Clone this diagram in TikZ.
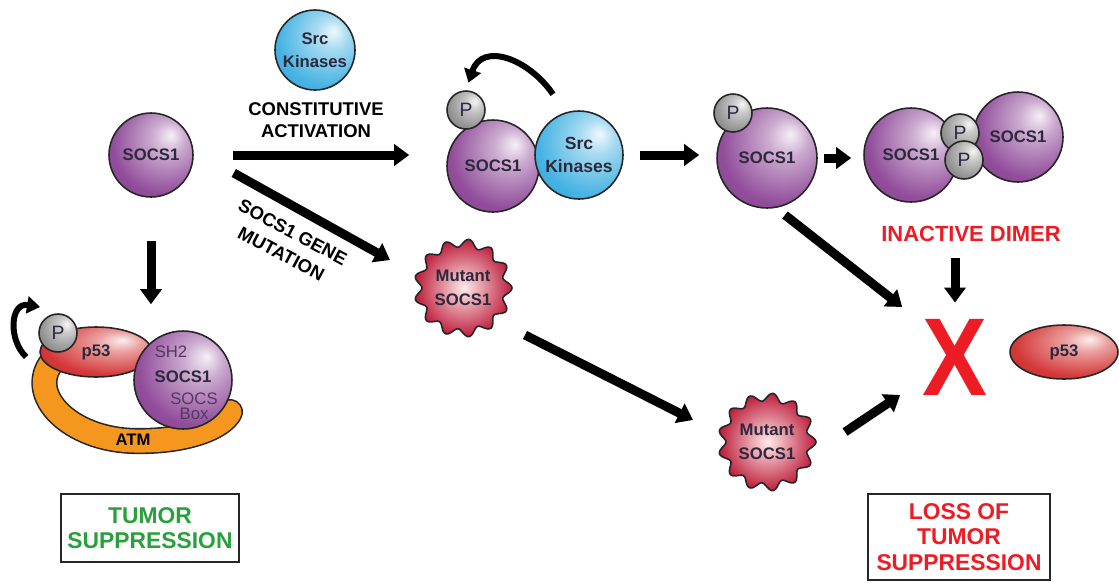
\documentclass[tikz,border=0pt]{standalone}
\usepackage{fontspec}
\setmainfont{Liberation Sans}
\usetikzlibrary{arrows.meta,shapes.geometric}

\definecolor{socspurple}{RGB}{140,68,150}
\definecolor{socsdark}{RGB}{85,55,95}
\definecolor{srcblue}{RGB}{60,175,225}
\definecolor{pgray}{RGB}{140,140,140}
\definecolor{p53red}{RGB}{210,45,45}
\definecolor{mutred}{RGB}{190,30,60}
\definecolor{atmorange}{RGB}{245,150,30}
\definecolor{alarmred}{RGB}{237,28,36}
\definecolor{okgreen}{RGB}{40,160,60}
\definecolor{inktext}{RGB}{45,40,60}

% softer ball shading, light spot up and to the right
\makeatletter
\pgfdeclareradialshading[tikz@ball]{orbshade}{\pgfqpoint{12bp}{12bp}}{%
  color(0bp)=(tikz@ball!8!white); color(10bp)=(tikz@ball!45!white);
  color(30bp)=(tikz@ball!95!white); color(52bp)=(tikz@ball!85!black);
  color(75bp)=(tikz@ball!70!black)}
\makeatother

\begin{document}
\begin{tikzpicture}[x=0.02cm, y=-0.02cm,
  every node/.style={font=\bfseries\fontsize{9.5}{13}\selectfont, text=inktext, align=center},
  orb/.style={circle, draw=black!85, line width=0.9pt, inner sep=0pt, minimum size=#1},
  socs/.style={orb=#1, ball color=socspurple, shading=orbshade},
  src/.style={orb=#1, ball color=srcblue, shading=orbshade},
  phos/.style={orb=0.76cm, ball color=pgray, shading=orbshade, font=\fontsize{11}{11}\selectfont},
  prot/.style={ellipse, draw=black!85, line width=0.9pt, ball color=p53red, shading=orbshade, inner sep=0pt},
  mutant/.style={draw=black!85, line width=0.9pt, inner color=red!8, outer color=mutred},
  fat/.style={line width=0.18cm, -{Triangle[length=0.3cm, width=0.42cm]}},
  curl/.style={line width=0.12cm, -{Triangle[length=0.26cm, width=0.34cm]}},
  arrowlbl/.style={font=\bfseries\fontsize{10.5}{12.5}\selectfont, text=black},
  verdict/.style={draw=black!85, line width=1.2pt, minimum width=3.56cm,
                  font=\bfseries\fontsize{13}{14.5}\selectfont},
]
\useasboundingbox (0,0) rectangle (1119,582);

% free SOCS1 and the kinase
\node[socs=1.68cm] (socsA) at (151,155) {SOCS1};
\node[src=1.6cm] (srcA) at (315,50) {Src\\Kinases};
\node[arrowlbl] (constit) at (316,120) {CONSTITUTIVE\\ACTIVATION};

% Src bound to SOCS1
\node[socs=1.84cm] (socsB) at (493,166) {SOCS1};
\node[src=1.76cm, font=\bfseries\fontsize{10}{13}\selectfont] (srcB) at (579,155) {Src\\Kinases};
\node[phos] (pB) at (466,110) {P};
\draw[curl, shorten >=0.16cm] ([shift={(-26,-16)}]srcB.north)
  .. controls (528,58) and (482,42) .. (pB.north);

% phosphorylated SOCS1
\node[socs=2cm] (socsC) at (767,158) {SOCS1};
\node[phos] (pC) at (733,113) {P};

% dimer
\node[socs=1.8cm] (dimR) at (1018,137) {SOCS1};
\node[socs=1.88cm] (dimL) at (911,155) {SOCS1};
\node[phos] (pD1) at (960,133) {P};
\node[phos] (pD2) at (964,160) {P};
\node[font=\bfseries\fontsize{12.5}{13}\selectfont, text=alarmred] (inactive) at (971,234) {INACTIVE DIMER};

\node[text=alarmred, inner sep=0pt, font=\bfseries\fontsize{63}{63}\selectfont] (xmark) at (955,357) {\scalebox{0.88}[1]{X}};
\node[prot, minimum width=2.16cm, minimum height=1.08cm] (p53R) at (1064,352) {p53};

% mutant SOCS1 blobs
\foreach \cx/\cy in {463/288, 767/442}
  \draw[mutant, shift={(\cx,\cy)}] plot[domain=0:357.5, samples=144, smooth cycle] (\x:{45+4*cos(13*\x)});
\node[circle, minimum size=1.96cm, inner sep=0pt, font=\bfseries\fontsize{9.5}{14}\selectfont] (mutA) at (463,288) {Mutant\\SOCS1};
\node[circle, minimum size=1.96cm, inner sep=0pt, font=\bfseries\fontsize{9.5}{14}\selectfont] (mutB) at (767,442) {Mutant\\SOCS1};

% ATM / p53 / SOCS1 complex
\draw[double=atmorange, double distance=0.46cm, line width=0.9pt, black!85, line cap=round]
  (52,362) .. controls (26,395) and (70,440) .. (135,441) .. controls (185,442) and (222,428) .. (230,412);
\node[text=black] (atm) at (133,440) {ATM};
\node[prot, minimum width=2.24cm, minimum height=1cm] (p53L) at (96,352) {p53};
\node[socs=1.96cm] (socsE) at (183,380) {};
\node[font=\fontsize{9.5}{9.5}\selectfont, text=socsdark] (sh2) at (171,352) {SH2};
\node (socsElbl) at (183,377) {SOCS1};
\node[font=\fontsize{9.5}{8.5}\selectfont, text=socsdark] (socsbox) at (194,406) {SOCS\\Box};
\node[phos] (pE) at (58,333) {P};
\draw[curl] ([shift={(-13,5)}]p53L.west) .. controls (8,340) and (10,302) .. ([shift={(-4,-12)}]pE.north west);

% outcome boxes
\node[verdict, text=okgreen, minimum height=1.36cm] (good) at (150,528) {TUMOR\\SUPPRESSION};
\node[verdict, text=alarmred, minimum width=3.64cm, minimum height=1.72cm] (bad) at (959,537) {LOSS OF\\TUMOR\\SUPPRESSION};

% arrows
\draw[fat] ([xshift=0.78cm]socsA.east) -- ([xshift=-0.74cm]socsA.east -| socsB.west);
\draw[fat] ([xshift=0.32cm]srcB.east) -- ([xshift=-0.34cm]srcB.east -| socsC.west);
\draw[fat] ([xshift=0.12cm]socsC.east) -- ([xshift=-0.24cm]socsC.east -| dimL.west);

\draw[fat] ([shift={(40,18)}]socsA.east) -- ([shift={(-73,-28)}]mutA.center);
\node[arrowlbl, rotate=-28, font=\bfseries\fontsize{10.5}{14}\selectfont] (mutlbl) at (287,243) {SOCS1 GENE\\MUTATION};
\draw[fat] ([shift={(62,47)}]mutA.center) -- ([shift={(-74,-22)}]mutB.center);
\draw[fat] ([shift={(78,-10)}]mutB.center) -- ([shift={(-22,38)}]xmark.west);
\draw[fat] ([shift={(18,57)}]socsC.center) -- ([shift={(-20,-50)}]xmark.west);
\draw[fat, shorten <=0.2cm, shorten >=0.32cm] (xmark.north |- inactive.south) -- (xmark.north);

\draw[fat, shorten <=0.86cm, shorten >=0.52cm] (socsA.south) -- (socsA.south |- socsE.north);
\end{tikzpicture}
\end{document}
